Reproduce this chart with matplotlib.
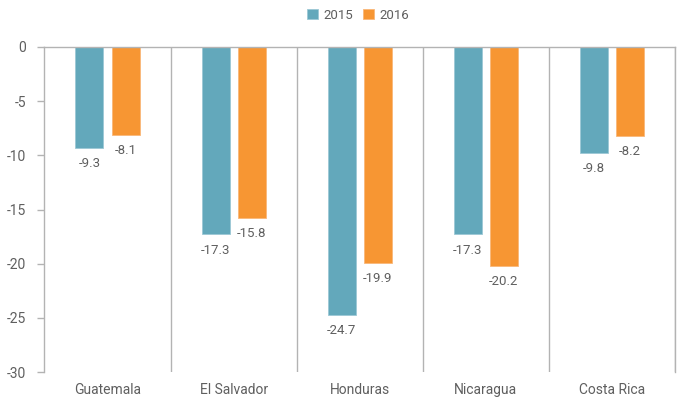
import numpy as np
import matplotlib.pyplot as plt

plt.rcParams['font.family'] = ['Roboto', 'DejaVu Sans']

countries = ['Guatemala', 'El Salvador', 'Honduras', 'Nicaragua', 'Costa Rica']
vals_2015 = [-9.3, -17.3, -24.7, -17.3, -9.8]
vals_2016 = [-8.1, -15.8, -19.9, -20.2, -8.2]

c2015 = '#63a8bb'
c2016 = '#f79633'
txt = '#5f5f5f'
line = '#b3b3b3'

fig = plt.figure(figsize=(6.77, 4.01), dpi=100)
ax = fig.add_axes([0.0657, 0.0723, 0.9313, 0.8105])

x = np.arange(len(countries))
w = 0.222
off = 0.143

b1 = ax.bar(x - off, vals_2015, w, color=c2015, edgecolor='#9cc8d5', linewidth=0.6, label='2015', zorder=2)
b2 = ax.bar(x + off, vals_2016, w, color=c2016, edgecolor='#f9b77a', linewidth=0.6, label='2016', zorder=2)

for bars, vals in ((b1, vals_2015), (b2, vals_2016)):
    for b, v in zip(bars, vals):
        ax.text(b.get_x() + b.get_width() / 2, v - 0.85, f'{v:.1f}', ha='center', va='top',
                fontsize=9.5, color=txt)

# separators between countries
for s in np.arange(0.5, len(countries), 1):
    ax.axvline(s, color=line, lw=1, zorder=1)

ax.set_xlim(-0.5, len(countries) - 0.5)
ax.set_ylim(-30, 0)
ax.set_yticks(np.arange(-30, 1, 5))
ax.set_yticklabels([str(t) for t in range(-30, 1, 5)])
ax.set_xticks(x)
ax.set_xticklabels(countries)

for side in ['left', 'right', 'top']:
    ax.spines[side].set_color(line)
    ax.spines[side].set_linewidth(1)
ax.spines['bottom'].set_visible(False)

ax.tick_params(axis='y', colors=line, labelcolor=txt, labelsize=10, length=5, width=1, pad=8)
ax.tick_params(axis='x', length=0, labelcolor=txt, labelsize=10, pad=8)

fig.legend(handles=[b1, b2], loc='center', bbox_to_anchor=(0.529, 0.962), ncol=2,
           frameon=False, fontsize=9.5, labelcolor=txt, handlelength=0.8, handleheight=0.8,
           handletextpad=0.4, columnspacing=0.8)

fig.savefig('out.png', dpi=100)
